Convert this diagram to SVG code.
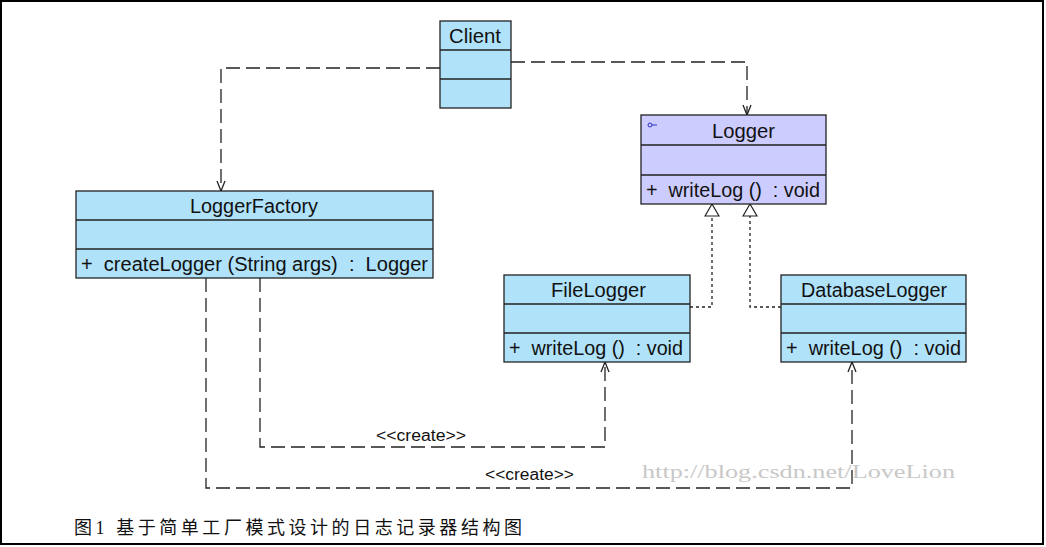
<svg xmlns="http://www.w3.org/2000/svg" width="1046" height="547" viewBox="0 0 1046 547">
<defs>
<style>
.box{fill:#b0e2fa;stroke:#222;stroke-width:1.3}
.iface{fill:#ccccff;stroke:#222;stroke-width:1.3}
.sep{stroke:#222;stroke-width:1.3}
.t{font-family:"Liberation Sans",Arial,sans-serif;font-size:20px;fill:#111;white-space:pre}
.dep{fill:none;stroke:#222;stroke-width:1.3;stroke-dasharray:14 6}
.real{fill:none;stroke:#222;stroke-width:1.3;stroke-dasharray:3 3}
.lbl{font-family:"Liberation Sans",Arial,sans-serif;font-size:16px;fill:#111}
</style>
<marker id="open" viewBox="0 0 12 12" refX="11" refY="6" markerWidth="12" markerHeight="12" markerUnits="userSpaceOnUse" orient="auto">
<path d="M1,2 L11,6 L1,10" fill="none" stroke="#222" stroke-width="1.3"/>
</marker>
<marker id="tri" viewBox="0 0 14 16" refX="13" refY="8" markerWidth="14" markerHeight="16" markerUnits="userSpaceOnUse" orient="auto">
<path d="M1,1 L13,8 L1,15 Z" fill="#fff" stroke="#222" stroke-width="1.2"/>
</marker>
</defs>
<rect x="0" y="0" width="1046" height="547" fill="#fff"/>
<rect x="1" y="1" width="1042" height="543" fill="none" stroke="#000" stroke-width="2"/>

<g id="connectors">
<polyline class="dep" points="440,68 221,68 221,191" marker-end="url(#open)"/>
<polyline class="dep" points="511,62 747,62 747,115" marker-end="url(#open)"/>
<polyline class="real" points="690,307 712,307 712,204" marker-end="url(#tri)"/>
<polyline class="real" points="781,307 750,307 750,204" marker-end="url(#tri)"/>
<polyline class="dep" points="260,278 260,447 605,447 605,362" marker-end="url(#open)"/>
<polyline class="dep" points="206,278 206,488 852,488 852,362" marker-end="url(#open)"/>
<text class="lbl" x="376" y="441" textLength="90" lengthAdjust="spacingAndGlyphs">&lt;&lt;create&gt;&gt;</text>
<text class="lbl" x="485" y="480" textLength="89" lengthAdjust="spacingAndGlyphs">&lt;&lt;create&gt;&gt;</text>
</g>

<g id="Client">
<rect class="box" x="440" y="21" width="71" height="87"/>
<line class="sep" x1="440" y1="50" x2="511" y2="50"/>
<line class="sep" x1="440" y1="79" x2="511" y2="79"/>
<text class="t" x="449" y="43" textLength="52" lengthAdjust="spacingAndGlyphs">Client</text>
</g>

<g id="Logger">
<rect class="iface" x="641" y="115" width="185" height="89"/>
<line class="sep" x1="641" y1="145" x2="826" y2="145"/>
<line class="sep" x1="641" y1="175" x2="826" y2="175"/>
<circle cx="650" cy="125" r="2" fill="none" stroke="#3030c0" stroke-width="1"/>
<line x1="652" y1="125" x2="657" y2="125" stroke="#3030c0" stroke-width="1"/>
<text class="t" x="712" y="138" textLength="63" lengthAdjust="spacingAndGlyphs">Logger</text>
<text class="t" x="646" y="197" textLength="174" lengthAdjust="spacingAndGlyphs">+  writeLog ()  : void</text>
</g>

<g id="LoggerFactory">
<rect class="box" x="76" y="191" width="357" height="87"/>
<line class="sep" x1="76" y1="220" x2="433" y2="220"/>
<line class="sep" x1="76" y1="249" x2="433" y2="249"/>
<text class="t" x="190" y="213" textLength="128" lengthAdjust="spacingAndGlyphs">LoggerFactory</text>
<text class="t" x="81" y="271" textLength="347" lengthAdjust="spacingAndGlyphs">+  createLogger (String args)  :  Logger</text>
</g>

<g id="FileLogger">
<rect class="box" x="504" y="275" width="186" height="87"/>
<line class="sep" x1="504" y1="304" x2="690" y2="304"/>
<line class="sep" x1="504" y1="333" x2="690" y2="333"/>
<text class="t" x="551" y="297" textLength="95" lengthAdjust="spacingAndGlyphs">FileLogger</text>
<text class="t" x="509" y="355" textLength="174" lengthAdjust="spacingAndGlyphs">+  writeLog ()  : void</text>
</g>

<g id="DatabaseLogger">
<rect class="box" x="781" y="275" width="185" height="87"/>
<line class="sep" x1="781" y1="304" x2="966" y2="304"/>
<line class="sep" x1="781" y1="333" x2="966" y2="333"/>
<text class="t" x="801" y="297" textLength="146" lengthAdjust="spacingAndGlyphs">DatabaseLogger</text>
<text class="t" x="786" y="355" textLength="175" lengthAdjust="spacingAndGlyphs">+  writeLog ()  : void</text>
</g>

<text x="642" y="478" font-family="'Liberation Serif','DejaVu Serif',serif" font-size="18" fill="#c8c8c8" textLength="313" lengthAdjust="spacingAndGlyphs">http://blog.csdn.net/LoveLion</text>
<text x="74" y="534" font-family="'Liberation Serif','Noto Sans CJK SC',serif" font-size="18" fill="#111" textLength="448" lengthAdjust="spacing">图1 基于简单工厂模式设计的日志记录器结构图</text>
</svg>
